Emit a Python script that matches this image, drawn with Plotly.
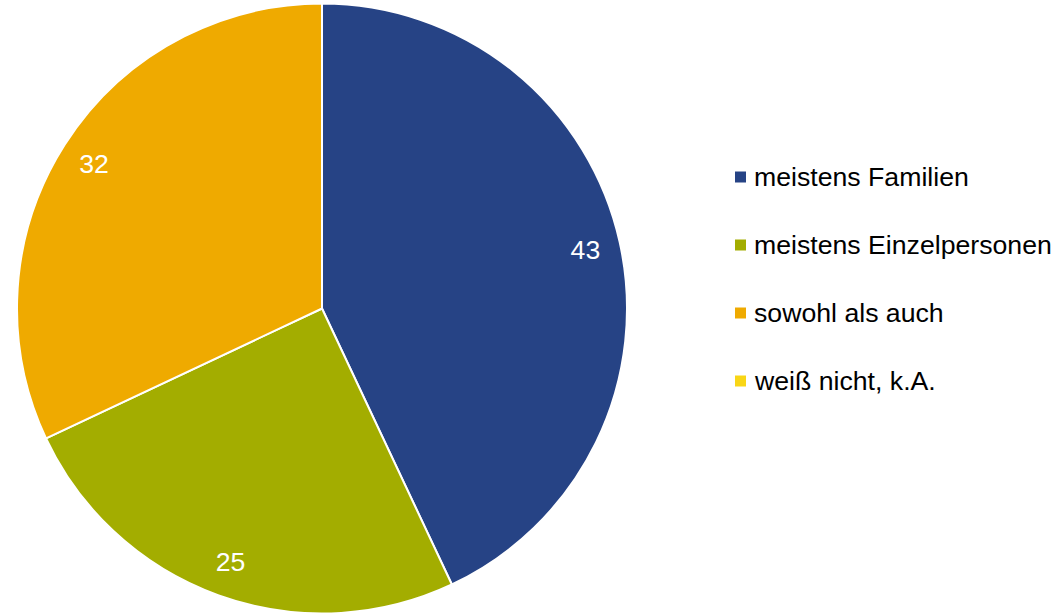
import plotly.graph_objects as go

labels = ["meistens Familien", "meistens Einzelpersonen", "sowohl als auch", "weiß nicht, k.A."]
values = [43, 25, 32, 0]
colors = ["#264385", "#A3AD00", "#EFAA00", "#F9D616"]

W, H = 1057, 614
FONT = "Liberation Sans, Arial, sans-serif"
FS = 26.67
DOMAIN = dict(x=[17 / W, 627 / W], y=[0, 1 - 3 / H])

# slices
fig = go.Figure(go.Pie(
    labels=labels,
    values=values,
    sort=False,
    direction="clockwise",
    rotation=0,
    marker=dict(colors=colors, line=dict(color="white", width=2)),
    textinfo="none",
    domain=DOMAIN,
    showlegend=False,
    hoverinfo="label+value",
))

# transparent ring carrying the value labels near the outer edge
fig.add_trace(go.Pie(
    labels=labels,
    values=values,
    sort=False,
    direction="clockwise",
    rotation=0,
    hole=0.77,
    marker=dict(colors=["rgba(0,0,0,0)"] * len(values), line=dict(width=0)),
    textinfo="value",
    textposition="inside",
    insidetextorientation="horizontal",
    textfont=dict(family=FONT, size=FS, color="white"),
    domain=DOMAIN,
    showlegend=False,
    hoverinfo="skip",
))

# legend drawn as squares + text, one row per category
row_y = [177, 245, 313, 381]
shapes = []
annotations = []
for lab, col, yy in zip(labels, colors, row_y):
    shapes.append(dict(type="rect", xref="paper", yref="paper",
                       x0=735 / W, x1=746 / W, y0=1 - (yy + 5.5) / H, y1=1 - (yy - 5.5) / H,
                       fillcolor=col, line=dict(width=0)))
    annotations.append(dict(text=lab, xref="paper", yref="paper", x=752 / W, y=1 - yy / H,
                            xanchor="left", yanchor="middle", showarrow=False,
                            font=dict(family=FONT, size=FS, color="black")))

fig.update_layout(
    width=W, height=H,
    margin=dict(l=0, r=0, t=0, b=0),
    paper_bgcolor="white",
    plot_bgcolor="white",
    shapes=shapes,
    annotations=annotations,
)

fig.write_html("out.html", config={"displayModeBar": False},
               post_script="document.body.style.margin='0';")
